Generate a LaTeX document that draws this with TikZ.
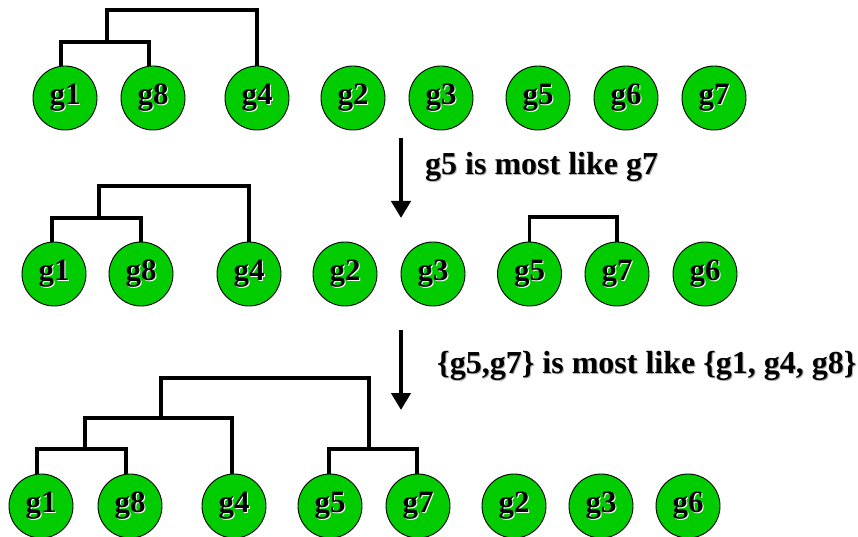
\documentclass[tikz,border=0pt]{standalone}
\usepackage{fontspec}
\setmainfont{Liberation Serif}
\usetikzlibrary{arrows.meta}
\definecolor{genegreen}{RGB}{0,204,0}
\definecolor{capshadow}{RGB}{175,175,175}
% text with an offset shadow copy behind it
\newcommand\shadowed[2]{\rlap{\kern1pt\raisebox{-1pt}{\color{#2}#1}}#1}
\tikzset{
  gene/.style={circle, draw=black, line width=0.9pt, fill=genegreen,
    minimum size=64pt, inner sep=0pt,
    font=\fontsize{31}{36}\selectfont\bfseries},
  link/.style={line width=3.6pt, line join=miter},
  merge/.style={line width=4.5pt, -{Triangle[width=19pt,length=17pt]}},
  caption/.style={anchor=base west, inner sep=0pt,
    font=\fontsize{32}{38}\selectfont\bfseries}
}
\newcommand\gene[3]{\node[gene] (#1) at (#2) {\shadowed{#3}{white}};}
\begin{document}
\begin{tikzpicture}[x=1pt,y=-1pt]
\useasboundingbox (0,0) rectangle (858,537);

% first row
\gene{A1}{65,98}{g1}
\gene{A8}{153,98}{g8}
\gene{A4}{257,98}{g4}
\gene{A2}{353,98}{g2}
\gene{A3}{441,98}{g3}
\gene{A5}{538,98}{g5}
\gene{A6}{626,98}{g6}
\gene{A7}{714,98}{g7}
\coordinate (a18) at (107,42);
\coordinate (a184) at (107,10);
\draw[link] ([xshift=-4pt]A1.north) |- (a18) -| ([xshift=-4pt]A8.north);
\draw[link] (a18) -- (a184) -| (A4.north);

% first merge step
\coordinate (s1) at (401,138);
\coordinate (e1) at (401,218);
\draw[merge] (s1) -- (e1);
\node[caption] (c1) at (425,175) {\shadowed{g5 is most like g7}{capshadow}};

% second row
\gene{B1}{54,274}{g1}
\gene{B8}{141,274}{g8}
\gene{B4}{249,274}{g4}
\gene{B2}{345,274}{g2}
\gene{B3}{433,274}{g3}
\gene{B5}{529.5,274}{g5}
\gene{B7}{617,274}{g7}
\gene{B6}{705,274}{g6}
\coordinate (b18) at (99,218);
\coordinate (b184) at (99,186);
\coordinate (b57) at (573,217);
\draw[link] ([xshift=-2pt]B1.north) |- (b18) -| (B8.north);
\draw[link] (b18) -- (b184) -| (B4.north);
\draw[link] (B5.north) |- (b57) -| (B7.north);

% second merge step
\coordinate (s2) at (401,330);
\coordinate (e2) at (401,410);
\draw[merge] (s2) -- (e2);
\node[caption] (c2) at (437,373) {\shadowed{\{g5,g7\} is most like \{g1, g4, g8\}}{capshadow}};

% third row
\gene{C1}{41,506}{g1}
\gene{C8}{130,506}{g8}
\gene{C4}{234,506}{g4}
\gene{C5}{330,506}{g5}
\gene{C7}{418,506}{g7}
\gene{C2}{514,506}{g2}
\gene{C3}{601,506}{g3}
\gene{C6}{688,506}{g6}
\coordinate (c18) at (85,449);
\coordinate (c184) at (161,418);
\coordinate (c57) at (369,449);
\coordinate (call) at (161,378);
\draw[link] ([xshift=-4pt]C1.north) |- (c18) -| ([xshift=-4pt]C8.north);
\draw[link] (c18) |- (c184) -| ([xshift=-2pt]C4.north);
\draw[link] ([xshift=-1pt]C5.north) |- (c57) -| ([xshift=-1pt]C7.north);
\draw[link] (c184) -- (call) -| (c57);
\end{tikzpicture}
\end{document}
